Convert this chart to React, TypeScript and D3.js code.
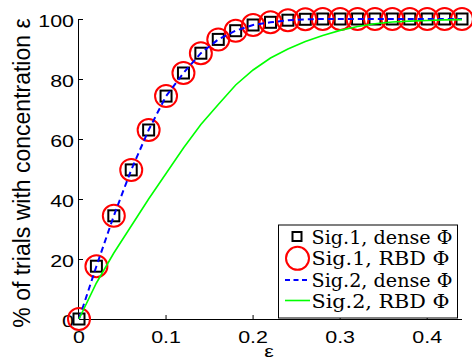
import React from "react";
import * as d3 from "d3";

const eps = [0, 0.02, 0.04, 0.06, 0.08, 0.1, 0.12, 0.14, 0.16, 0.18, 0.2, 0.22, 0.24, 0.26, 0.28, 0.3, 0.32, 0.34, 0.36, 0.38, 0.4, 0.42, 0.44];
const sig1Dense = [0, 17.6, 34.4, 49.7, 63, 74.3, 82, 88.6, 93.2, 96.1, 98, 98.9, 99.6, 99.9, 100, 100, 100, 100, 100, 100, 100, 100, 100];
const sig1RBD = [0, 17.6, 34.4, 49.7, 63, 74.3, 82, 88.6, 93.2, 96.1, 98, 98.9, 99.6, 99.9, 100, 100, 100, 100, 100, 100, 100, 100, 100];
const sig2Dense = [0, 17.6, 34.4, 49.7, 63, 74.3, 82, 88.6, 93.2, 96.1, 98, 98.9, 99.6, 99.9, 100, 100, 100, 100, 100, 100, 100, 100, 100];
const sig2RBD = [0, 12, 22, 31, 40, 48.5, 57, 64.8, 71.5, 78, 83, 87, 90, 92.5, 94.5, 96.2, 97.5, 98.4, 99, 99.3, 99.5, 99.7, 99.8];
const xTicks = [0, 0.1, 0.2, 0.3, 0.4];
const yTicks = [0, 20, 40, 60, 80, 100];
const legendLabels = ["Sig.1, dense \u03A6", "Sig.1, RBD \u03A6", "Sig.2, dense \u03A6", "Sig.2, RBD \u03A6"];

export default function App() {
  const W = 472, H = 362;
  const x = d3.scaleLinear().domain([0, 0.44]).range([79, 462]);
  const y = d3.scaleLinear().domain([0, 100]).range([319, 19]);
  const line = (vals: number[]) =>
    d3.line<number>().x((_, i) => x(eps[i])).y((v) => y(v))(vals) || "";
  const sans = "'Liberation Sans', Arial, sans-serif";
  const serif = "'DejaVu Serif', serif";
  const lx = 278.5, ly = 225, lw = 179, lh = 93;
  const rowY = [236.5, 258.3, 280, 300.5];
  const legendW = [141, 138, 141, 138];
  const tf = 16.5, sx = 1.3;
  return (
    <svg width={W} height={H} style={{ position: "absolute", left: 0, top: 0, background: "#fff" }}>
      <rect x={0} y={0} width={W} height={H} fill="#fff" />
      {/* axes */}
      <line x1={x(0)} y1={y(0) + 0.5} x2={x(0.44)} y2={y(0) + 0.5} stroke="#000" strokeWidth={1} />
      <line x1={x(0) - 0.5} y1={y(0)} x2={x(0) - 0.5} y2={y(100)} stroke="#000" strokeWidth={1} />
      {xTicks.map((t) => (
        <g key={"xt" + t}>
          <line x1={x(t)} x2={x(t)} y1={y(0)} y2={y(0) - 4} stroke="#000" strokeWidth={1} />
          <text transform={`translate(${x(t)},342.5) scale(${sx},1)`} textAnchor="middle" fontFamily={sans} fontSize={tf} fill="#000">
            {t}
          </text>
        </g>
      ))}
      {yTicks.map((t) => (
        <g key={"yt" + t}>
          <line x1={x(0)} x2={x(0) + 4} y1={y(t) + 0.5} y2={y(t) + 0.5} stroke="#000" strokeWidth={1} />
          <text transform={`translate(74,${y(t) + 7.5}) scale(${sx},1)`} textAnchor="end" fontFamily={sans} fontSize={tf} fill="#000">
            {t}
          </text>
        </g>
      ))}
      <text transform={`translate(269,357) scale(${sx},1)`} textAnchor="middle" fontFamily={sans} fontSize={tf} fill="#000">ε</text>
      <text transform={`translate(30,${173}) rotate(-90)`} textAnchor="middle" fontFamily={sans} fontSize={23} fill="#000">
        % of trials with concentration ε
      </text>
      {/* series */}
      {sig1Dense.map((v, i) => (
        <rect key={"sq" + i} x={x(eps[i]) - 5.5} y={y(v) - 5.5} width={11} height={11} fill="none" stroke="#000" strokeWidth={2} />
      ))}
      {sig1RBD.map((v, i) => (
        <circle key={"c" + i} cx={x(eps[i])} cy={y(v)} r={11} fill="none" stroke="#ff0000" strokeWidth={2} />
      ))}
      <path d={line(sig2Dense)} fill="none" stroke="#0000ff" strokeWidth={2} strokeDasharray="6,4" />
      <path d={line(sig2RBD)} fill="none" stroke="#00ff00" strokeWidth={1.6} />
      {/* legend */}
      <rect x={lx} y={ly} width={lw} height={lh} fill="#fff" stroke="#000" strokeWidth={1} />
      <rect x={292.5} y={rowY[0] - 4.5} width={9} height={9} fill="none" stroke="#000" strokeWidth={2} />
      <circle cx={297.5} cy={rowY[1]} r={11.5} fill="none" stroke="#ff0000" strokeWidth={2} />
      <line x1={285} x2={310} y1={rowY[2]} y2={rowY[2]} stroke="#0000ff" strokeWidth={2} strokeDasharray="5,3.5" />
      <line x1={285} x2={310} y1={rowY[3]} y2={rowY[3]} stroke="#00ff00" strokeWidth={1.6} />
      {legendLabels.map((s, i) => (
        <text key={s} x={311.5} y={rowY[i] + 7} fontFamily={serif} fontSize={18.5} fill="#000" textLength={legendW[i]} lengthAdjust="spacingAndGlyphs">
          {s}
        </text>
      ))}
    </svg>
  );
}
